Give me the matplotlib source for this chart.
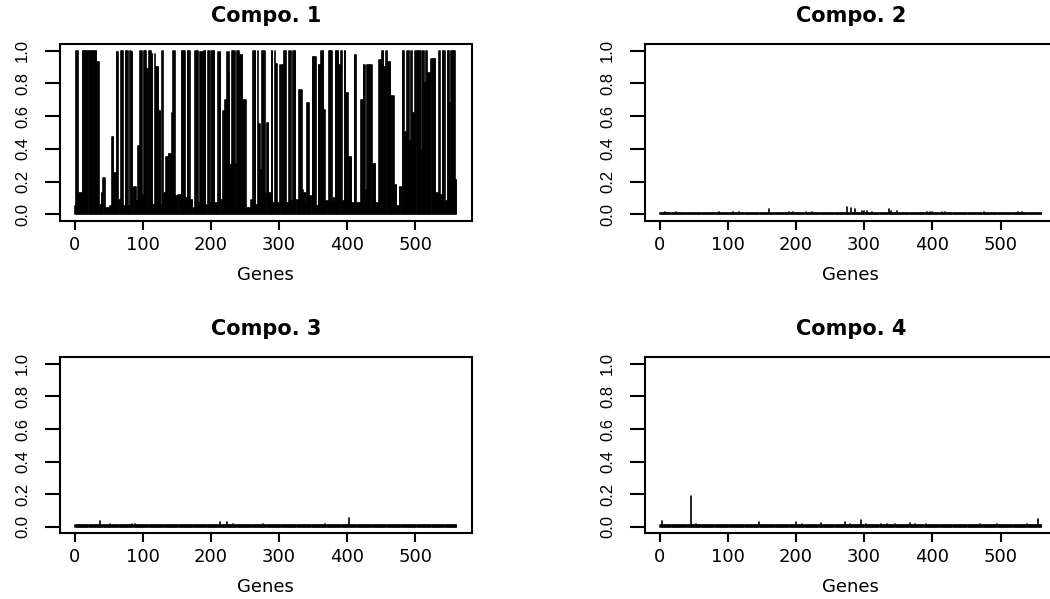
import numpy as np
import matplotlib.pyplot as plt

n_genes = 560
genes = np.arange(1, n_genes + 1)

# Compo. 1 read as runs: each value holds from its start gene up to the next start
compo1_starts = [1, 2, 6, 12, 33, 37, 40, 42, 45, 52, 55, 58, 62, 65, 68, 72, 75, 84, 86, 91,
                 93, 96, 100, 102, 106, 109, 113, 119, 124, 127, 129, 131, 134, 138, 143, 145,
                 148, 152, 157, 170, 174, 177, 182, 184, 190, 199, 201, 206, 211, 215, 218, 221,
                 224, 227, 231, 236, 238, 242, 247, 252, 259, 262, 270, 273, 275, 280, 282, 285,
                 289, 295, 298, 302, 307, 311, 315, 325, 329, 334, 336, 340, 341, 345, 349, 355,
                 358, 362, 366, 368, 373, 378, 383, 388, 391, 398, 402, 407, 411, 414, 420, 424,
                 427, 429, 437, 442, 447, 451, 459, 464, 469, 473, 477, 481, 484, 488, 496, 500,
                 508, 510, 518, 523, 530, 535, 550, 552, 559]
compo1_values = [0.05, 1.0, 0.13, 1.0, 0.93, 0.06, 0.13, 0.22, 0.04, 0.05, 0.47, 0.25, 0.99, 0.09,
                 1.0, 0.05, 1.0, 0.99, 0.17, 0.08, 0.42, 1.0, 0.12, 1.0, 0.89, 1.0, 0.98, 0.90,
                 0.63, 0.06, 1.0, 0.13, 0.35, 0.37, 0.62, 1.0, 0.11, 0.12, 1.0, 0.09, 0.04, 1.0,
                 0.07, 0.99, 1.0, 0.07, 1.0, 0.07, 0.99, 0.09, 0.63, 0.70, 0.99, 0.87, 1.0, 0.31,
                 1.0, 0.97, 0.70, 0.04, 0.09, 1.0, 0.55, 0.27, 1.0, 0.13, 0.56, 0.13, 1.0, 0.92,
                 0.07, 0.91, 1.0, 0.07, 1.0, 0.09, 0.76, 0.15, 0.13, 0.05, 0.68, 0.11, 0.96, 0.05,
                 0.91, 1.0, 0.64, 0.08, 1.0, 0.07, 1.0, 0.91, 1.0, 0.74, 0.35, 0.07, 0.97, 0.07,
                 0.70, 0.91, 0.15, 0.91, 0.31, 0.07, 0.94, 1.0, 0.93, 0.72, 0.18, 0.05, 0.17, 1.0,
                 0.50, 1.0, 0.62, 1.0, 0.39, 1.0, 0.86, 0.95, 0.13, 1.0, 0.68, 1.0, 0.21]
# narrow dips (3 genes each) seen as thin white lines inside the dark runs
compo1_dip_starts = [79, 115, 163, 193, 228, 266, 291, 318, 379, 393, 454, 491, 513, 537, 544]
compo1_dip_values = [0.05, 0.06, 0.10, 0.06, 0.30, 0.06, 0.07, 0.08, 0.10, 0.08, 0.90, 0.45, 0.80,
                     0.12, 0.08]

# Compo. 2-4: near-zero everywhere except a few small spikes
baseline = 0.008
compo2_genes = [8, 24, 87, 107, 117, 160, 190, 195, 214, 224, 231, 275, 280, 286, 297, 300, 304,
                311, 336, 340, 348, 392, 396, 400, 414, 418, 475, 526, 531]
compo2_values = [0.015, 0.012, 0.015, 0.012, 0.012, 0.035, 0.013, 0.012, 0.012, 0.012, 0.01, 0.045,
                 0.04, 0.03, 0.02, 0.02, 0.018, 0.014, 0.03, 0.02, 0.018, 0.016, 0.013, 0.013,
                 0.013, 0.013, 0.013, 0.013, 0.013]
compo3_genes = [3, 27, 37, 52, 72, 84, 89, 108, 194, 214, 224, 233, 277, 322, 326, 353, 368, 402,
                449, 459, 527]
compo3_values = [0.012, 0.011, 0.035, 0.015, 0.012, 0.015, 0.015, 0.012, 0.011, 0.03, 0.03, 0.02,
                 0.015, 0.013, 0.011, 0.012, 0.015, 0.055, 0.011, 0.011, 0.013]
compo4_genes = [3, 26, 46, 53, 68, 80, 90, 100, 112, 146, 156, 178, 200, 209, 236, 245, 255, 272,
                279, 295, 302, 315, 325, 334, 345, 367, 375, 390, 409, 429, 460, 470, 495, 507,
                521, 539, 555]
compo4_values = [0.035, 0.01, 0.19, 0.015, 0.012, 0.013, 0.012, 0.011, 0.011, 0.03, 0.012, 0.013,
                 0.03, 0.015, 0.025, 0.013, 0.012, 0.03, 0.015, 0.04, 0.02, 0.013, 0.015, 0.02,
                 0.015, 0.025, 0.015, 0.015, 0.011, 0.01, 0.011, 0.015, 0.015, 0.012, 0.013,
                 0.015, 0.05]

titles = ["Compo. 1", "Compo. 2", "Compo. 3", "Compo. 4"]
x_ticks = [0, 100, 200, 300, 400, 500]
y_ticks = [0.0, 0.2, 0.4, 0.6, 0.8, 1.0]

# expand runs / spikes into one value per gene
counts = np.diff(compo1_starts + [n_genes + 1])
compo1 = np.repeat(compo1_values, counts)
for s, v in zip(compo1_dip_starts, compo1_dip_values):
    compo1[s - 1:s + 2] = v


def spikes(idx, vals):
    v = np.full(n_genes, baseline)
    v[np.array(idx) - 1] = vals
    return v


series = [compo1,
          spikes(compo2_genes, compo2_values),
          spikes(compo3_genes, compo3_values),
          spikes(compo4_genes, compo4_values)]

fig = plt.figure(figsize=(10.5, 5.99), dpi=100)
boxes = [[0.0571, 0.6311, 0.3921, 0.2955],
         [0.6143, 0.6311, 0.3921, 0.2955],
         [0.0571, 0.1097, 0.3921, 0.2938],
         [0.6143, 0.1097, 0.3921, 0.2938]]

for box, title, vals in zip(boxes, titles, series):
    ax = fig.add_axes(box)
    lc = ax.vlines(genes, 0, vals, colors="black", linewidth=1.2)
    lc.set_capstyle("round")
    pad = 0.04 * (n_genes - 1)
    ax.set_xlim(1 - pad, n_genes + pad)
    ax.set_ylim(-0.04, 1.04)
    ax.set_xticks(x_ticks)
    ax.set_xticklabels([str(t) for t in x_ticks], fontsize=13, family="DejaVu Sans")
    ax.set_yticks(y_ticks)
    ax.set_yticklabels([f"{t:.1f}" for t in y_ticks], rotation=90, va="center",
                       fontsize=12, family="Liberation Sans")
    ax.tick_params(axis="x", direction="out", length=6.5, width=1.5, pad=4)
    ax.tick_params(axis="y", direction="out", length=10.5, width=1.5, pad=11)
    for s in ax.spines.values():
        s.set_linewidth(1.5)
    ax.set_title(title, fontsize=15, fontweight="bold", pad=16)
    ax.set_xlabel("Genes", fontsize=13, labelpad=9)

fig.savefig("out.png", dpi=100)
